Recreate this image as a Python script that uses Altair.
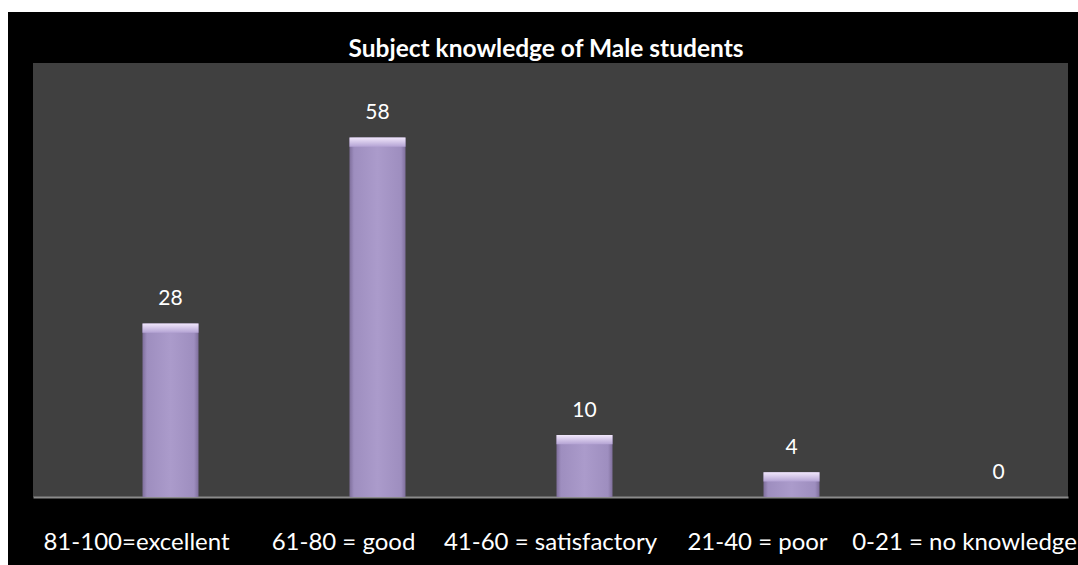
import altair as alt
import pandas as pd

categories = ["81-100=excellent", "61-80 = good", "41-60 = satisfactory", "21-40 = poor", "0-21 = no knowledge"]
values = [28, 58, 10, 4, 0]
title_text = ["Subject knowledge of Male students"]

df = pd.DataFrame({"cat": categories, "value": values})

FONT = "Lato"
xenc = alt.X("cat:N", sort=categories, title=None,
             scale=alt.Scale(paddingInner=0, paddingOuter=0),
             axis=alt.Axis(labelAngle=0, labelColor="white", labelFont=FONT, labelFontSize=24,
                           labelBaseline="alphabetic", labelPadding=52, ticks=False, tickSize=0,
                           domainColor="#8a8a8a", domainWidth=2, labelOverlap=False, labelBound=False,
                           labelFlush=False, labelLimit=0, grid=False))
yscale = alt.Scale(domain=[0, 70])

base = alt.Chart(df)

bar_fill = alt.Gradient(
    gradient="linear", x1=0, x2=1, y1=0, y2=0,
    stops=[alt.GradientStop(offset=0, color="#7f6f9c"),
           alt.GradientStop(offset=0.08, color="#9e8ebf"),
           alt.GradientStop(offset=0.5, color="#ab9bcb"),
           alt.GradientStop(offset=0.92, color="#9e8ebf"),
           alt.GradientStop(offset=1, color="#7f6f9c")])

bars = base.transform_filter("datum.value > 0").mark_bar(width=56, xOffset=34, color=bar_fill).encode(
    x=xenc,
    y=alt.Y("value:Q", scale=yscale, axis=None),
)

cap = base.transform_filter("datum.value > 0").transform_calculate(
    top2="datum.value - 1.5"
).mark_bar(width=56, xOffset=34, color=alt.Gradient(
    gradient="linear", x1=0, x2=0, y1=0, y2=1,
    stops=[alt.GradientStop(offset=0, color="#f2e8fc"),
           alt.GradientStop(offset=1, color="#b4a3d4")])).encode(
    x=xenc,
    y=alt.Y("value:Q", scale=yscale, axis=None),
    y2="top2:Q",
)

labels = base.mark_text(xOffset=34, dy=-18, baseline="alphabetic", color="white",
                        font=FONT, fontSize=21).encode(
    x=xenc,
    y=alt.Y("value:Q", scale=yscale, axis=None),
    text="value:Q",
)

title = alt.Chart(pd.DataFrame({"t": title_text})).mark_text(
    color="white", font=FONT, fontSize=24.5, fontWeight="bold", align="center", baseline="alphabetic"
).encode(x=alt.value(513), y=alt.value(-6), text="t:N")

# white margin strips from the original image
white_left = alt.Chart(df).mark_rect(color="white").encode(
    x=alt.value(-33), x2=alt.value(-25), y=alt.value(-63), y2=alt.value(502))
white_top = alt.Chart(df).mark_rect(color="white").encode(
    x=alt.value(-33), x2=alt.value(1045), y=alt.value(-63), y2=alt.value(-51))

chart = alt.layer(white_left, white_top, bars, cap, labels, title).properties(
    width=1035, height=434,
    padding={"left": 33, "top": 63, "right": 10, "bottom": 68},
    autosize=alt.AutoSizeParams(type="none"),
    background="black",
).configure_view(fill="#404040", stroke=None)

chart.save("out.html", embed_options={"renderer": "svg", "actions": False})
